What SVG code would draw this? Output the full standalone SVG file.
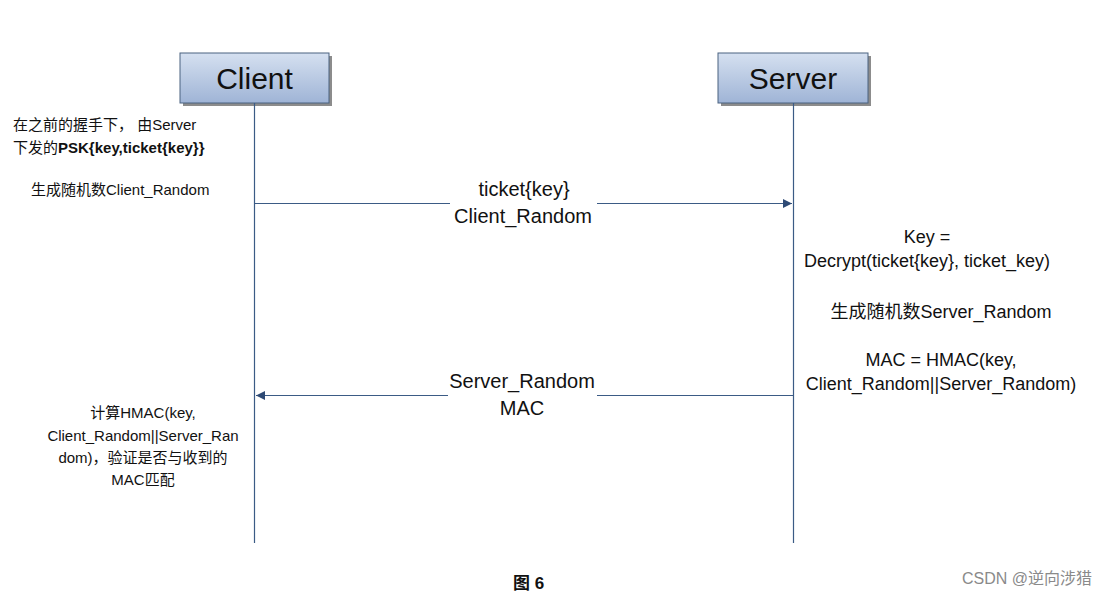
<svg xmlns="http://www.w3.org/2000/svg" width="1113" height="596" viewBox="0 0 1113 596">
<defs>
<linearGradient id="boxg" x1="0" y1="0" x2="0" y2="1">
<stop offset="0" stop-color="#d5e0f0"/>
<stop offset="1" stop-color="#9fb4d6"/>
</linearGradient>
<marker id="ah" viewBox="0 0 10 10" refX="10" refY="5" markerWidth="9" markerHeight="9" markerUnits="userSpaceOnUse" orient="auto">
<path d="M0,0 L10,5 L0,10 z" fill="#2e4a75"/>
</marker>
<style>
.box{fill:url(#boxg);stroke:#4a6280;stroke-width:1}
.shadow{fill:#8c8c8c}
.life{stroke:#3b5b85;stroke-width:1.2;fill:none}
.msg{stroke:#3b5b85;stroke-width:1.2;fill:none}
.t{font-family:"Liberation Sans","Noto Sans CJK SC",sans-serif;fill:#111}
.title{font-size:30px;text-anchor:middle}
.note{font-size:15px}
.lab{font-size:20px;text-anchor:middle}
.rt{font-size:18px;text-anchor:middle}
.c{text-anchor:middle}
</style>
</defs>
<rect width="1113" height="596" fill="#ffffff"/>
<g id="client">
<rect class="shadow" x="183" y="56" width="149" height="50"/>
<rect class="box" x="180" y="53" width="149" height="50"/>
<text class="t title" x="254.5" y="89">Client</text>
</g>
<g id="server">
<rect class="shadow" x="721" y="56" width="150" height="50"/>
<rect class="box" x="718" y="53" width="150" height="50"/>
<text class="t title" x="793" y="89">Server</text>
</g>
<g id="connectors">
<line class="life" x1="254.5" y1="103" x2="254.5" y2="543"/>
<line class="life" x1="793.5" y1="103" x2="793.5" y2="543"/>
<line class="msg" x1="254.5" y1="203.5" x2="450" y2="203.5"/>
<line class="msg" x1="597" y1="203.5" x2="792" y2="203.5" marker-end="url(#ah)"/>
<line class="msg" x1="793" y1="395.5" x2="597" y2="395.5"/>
<line class="msg" x1="448" y1="395.5" x2="256" y2="395.5" marker-end="url(#ah)"/>
</g>
<g id="labels">
<text class="t lab" x="524" y="196">ticket{key}</text>
<text class="t lab" x="523" y="223">Client_Random</text>
<text class="t lab" x="522" y="388">Server_Random</text>
<text class="t lab" x="522" y="415">MAC</text>
</g>
<g id="client-notes">
<text class="t note" x="13" y="130">在之前的握手下， 由Server</text>
<text class="t note" x="13" y="153">下发的<tspan font-weight="bold">PSK{key,ticket{key}}</tspan></text>
<text class="t note" x="31" y="195">生成随机数Client_Random</text>
<text class="t note c" x="143" y="418">计算HMAC(key,</text>
<text class="t note c" x="143" y="441">Client_Random||Server_Ran</text>
<text class="t note c" x="143" y="463">dom)，验证是否与收到的</text>
<text class="t note c" x="143" y="485">MAC匹配</text>
</g>
<g id="server-notes">
<text class="t rt" x="927" y="243">Key =</text>
<text class="t rt" x="927" y="267">Decrypt(ticket{key}, ticket_key)</text>
<text class="t rt" x="941" y="318">生成随机数Server_Random</text>
<text class="t rt" x="941" y="366">MAC = HMAC(key,</text>
<text class="t rt" x="941" y="390">Client_Random||Server_Random)</text>
</g>
<text class="t" x="513" y="589" font-size="17" font-weight="bold">图 6</text>
<text class="t" x="962" y="584" font-size="16" style="fill:#8a8a8a">CSDN @逆向涉猎</text>
</svg>
